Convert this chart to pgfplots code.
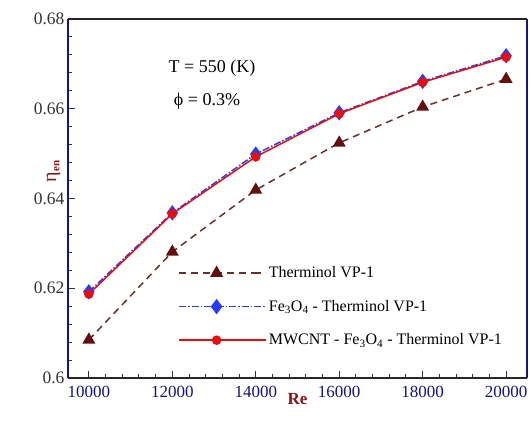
\documentclass[border=0pt]{standalone}
\usepackage{pgfplots}
\pgfplotsset{compat=1.18}
\usepackage{fontspec}
\setmainfont{Liberation Serif}
\definecolor{brn}{RGB}{100,15,15}
\definecolor{brnline}{RGB}{110,45,45}
\definecolor{myblue}{RGB}{40,60,250}
\definecolor{myred}{RGB}{230,15,15}
\definecolor{navy}{RGB}{20,20,130}
\definecolor{lblred}{RGB}{140,20,20}
\definecolor{tickgray}{RGB}{50,50,50}
\begin{document}
\begin{tikzpicture}
\begin{axis}[
  scale only axis,
  width=459bp, height=359bp,
  xmin=9500, xmax=20500, ymin=0.6, ymax=0.68,
  xtick={10000,12000,14000,16000,18000,20000},
  ytick={0.6,0.62,0.64,0.66,0.68},
  yticklabels={0.6,0.62,0.64,0.66,0.68},
  minor x tick num=4, minor y tick num=4,
  scaled x ticks=false, scaled y ticks=false,
  /pgf/number format/set thousands separator={},
  /pgf/number format/assume math mode=true,
  xtick pos=bottom, ytick pos=left,
  tick align=inside,
  major tick length=7bp, minor tick length=4bp,
  tick style={line width=1bp, color=tickgray},
  axis line style={line width=1.3bp},
  separate axis lines,
  y axis line style={navy},
  x axis line style={black!85},
  x tick label style={font=\fontsize{17bp}{20bp}\selectfont, text=navy, yshift=-5bp},
  y tick label style={font=\fontsize{17.5bp}{20bp}\selectfont, text=tickgray},
  xlabel={\textbf{Re}},
  ylabel={η\raisebox{-0.35ex}{\fontsize{11bp}{12bp}\selectfont\textbf{en}}},
  xlabel style={font=\fontsize{17bp}{20bp}\selectfont, text=lblred, at={(axis description cs:0.5,0)}, yshift=-12bp},
  ylabel style={font=\fontsize{20bp}{22bp}\selectfont, text=lblred, at={(axis description cs:0,0.575)}, yshift=4bp},
  legend cell align=left,
  legend style={draw=none, fill=none, at={(axis description cs:0.24,0.33)}, anchor=north west,
    yshift=-5bp,
    font=\fontsize{16bp}{19bp}\selectfont, row sep=17bp, inner sep=0pt,
    /tikz/every even column/.append style={column sep=0bp}},
  legend image code/.code={
    \draw[mark repeat=2,mark phase=2] plot coordinates {(0bp,0bp) (37.5bp,0bp) (75bp,0bp)};
    \path (75bp,0) -- (87bp,0);
  },
]
\addplot[color=brnline, line width=1.5bp, dash pattern=on 7bp off 5bp,
  mark=triangle*, mark size=6bp, mark options={solid, fill=brn, draw=brn}]
  coordinates {(10000,0.6085) (12000,0.6281) (14000,0.6419) (16000,0.6524) (18000,0.6604) (20000,0.6666)};
\addlegendentry{Therminol VP-1}
\addplot[color=myblue, line width=1.5bp, dash pattern=on 7bp off 2bp on 1.5bp off 2bp,
  mark=diamond*, mark size=6.5bp, mark options={solid, fill=myblue, draw=myblue}]
  coordinates {(10000,0.6192) (12000,0.6368) (14000,0.6499) (16000,0.6591) (18000,0.6661) (20000,0.6718)};
\addlegendentry{Fe\textsubscript{3}O\textsubscript{4} - Therminol VP-1}
\addplot[color=myred, line width=1.5bp,
  mark=*, mark size=4bp, mark options={solid, fill=myred, draw=myred}]
  coordinates {(10000,0.6187) (12000,0.6366) (14000,0.6493) (16000,0.6589) (18000,0.6659) (20000,0.6715)};
\addlegendentry{MWCNT - Fe\textsubscript{3}O\textsubscript{4} - Therminol VP-1}
\node[font=\fontsize{18bp}{21bp}\selectfont] at (axis cs:12951,0.6691) {T = 550 (K)};
\node[font=\fontsize{18bp}{21bp}\selectfont] at (axis cs:12831,0.6617) {ϕ = 0.3\%};
\end{axis}
\pgfresetboundingbox
\path[use as bounding box] ([shift={(-68bp,-43bp)}]current axis.south west) rectangle ([shift={(4bp,19bp)}]current axis.north east);
\end{tikzpicture}
\end{document}
